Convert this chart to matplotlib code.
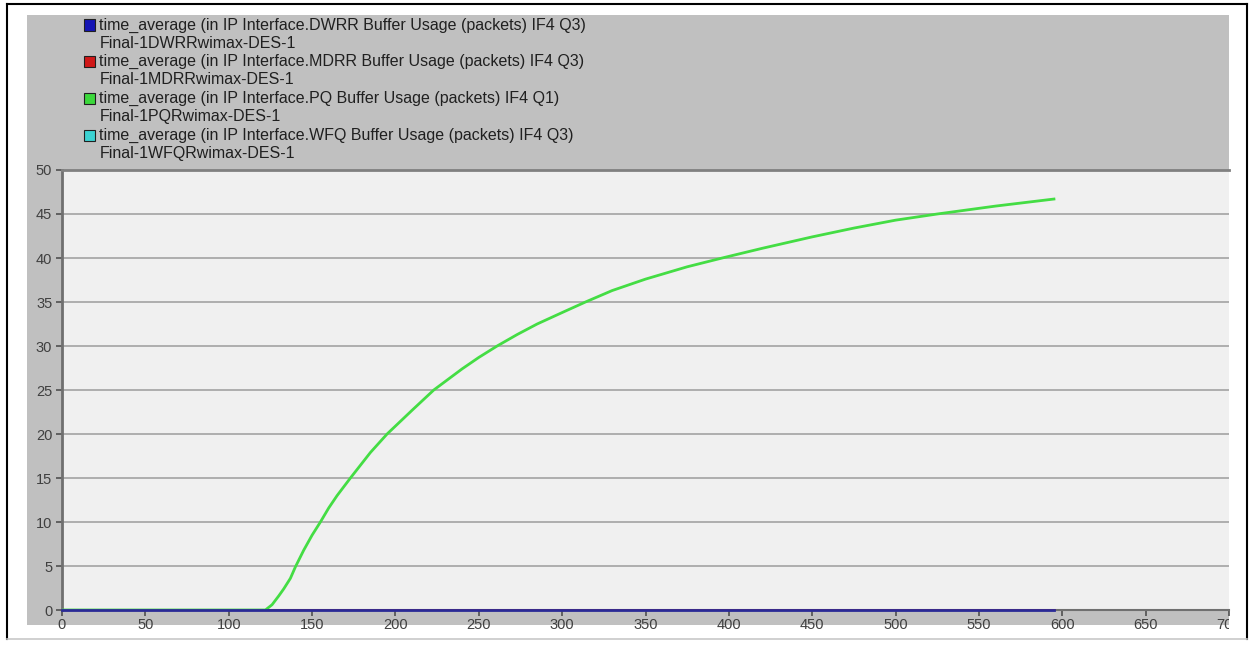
import matplotlib.pyplot as plt
from matplotlib.patches import Rectangle
from matplotlib.transforms import Bbox, TransformedBbox

# data
pq_time = [0, 50, 100, 122, 126, 130, 133, 137, 140, 145, 150, 155, 160, 165,
           173, 185, 195, 210, 223, 240, 250, 261, 273, 285, 300, 314, 330,
           350, 375, 396, 420, 450, 475, 500, 525, 560, 595]
pq_usage = [0, 0, 0, 0, 0.6, 1.6, 2.4, 3.6, 4.9, 6.8, 8.5, 10, 11.6, 13,
            15, 17.9, 20, 22.7, 25, 27.4, 28.7, 30, 31.3, 32.5, 33.8, 35, 36.3,
            37.6, 39, 40, 41.1, 42.4, 43.4, 44.3, 45, 45.9, 46.7]
flat_time = [0, 595]
dwrr_usage = [0, 0]
mdrr_usage = [0, 0]
wfq_usage = [0, 0]

legend_main = [
    "time_average (in IP Interface.DWRR Buffer Usage (packets) IF4 Q3)",
    "time_average (in IP Interface.MDRR Buffer Usage (packets) IF4 Q3)",
    "time_average (in IP Interface.PQ Buffer Usage (packets) IF4 Q1)",
    "time_average (in IP Interface.WFQ Buffer Usage (packets) IF4 Q3)",
]
legend_sub = [
    "Final-1DWRRwimax-DES-1",
    "Final-1MDRRwimax-DES-1",
    "Final-1PQRwimax-DES-1",
    "Final-1WFQRwimax-DES-1",
]
legend_colors = ["#1414b4", "#d01818", "#3cd83c", "#3cd2d2"]

plt.rcParams['font.family'] = ['Liberation Sans', 'DejaVu Sans']

W, H = 1249, 650
fig = plt.figure(figsize=(W / 100, H / 100), dpi=100)
fig.patch.set_facecolor('white')


def fx(px):
    return px / W


def fy(py):
    return 1 - py / H


# outer frame
fig.add_artist(plt.Line2D([fx(7), fx(7)], [fy(4), fy(639)], color='black', lw=1.5))
fig.add_artist(plt.Line2D([fx(7), fx(1247)], [fy(4), fy(4)], color='black', lw=1.5))
fig.add_artist(plt.Line2D([fx(1247), fx(1247)], [fy(4), fy(639)], color='black', lw=1.5))
fig.add_artist(plt.Line2D([fx(7), fx(1247)], [fy(639), fy(639)], color='#c8c8c8', lw=1.2))

# grey panel
fig.add_artist(Rectangle((fx(27), fy(625)), fx(1229) - fx(27), fy(15) - fy(625),
                         transform=fig.transFigure, facecolor='#c0c0c0',
                         edgecolor='none', zorder=0))

# legend text block
for i in range(4):
    y_main = 25 + i * 36.7
    y_sub = y_main + 18
    fig.add_artist(Rectangle((fx(84), fy(y_main + 5.5)), fx(11), 11 / H,
                             transform=fig.transFigure,
                             facecolor=legend_colors[i], edgecolor='#202020',
                             lw=0.8, zorder=3))
    fig.text(fx(99), fy(y_main), legend_main[i], fontsize=11.5, color='#202020',
             va='center', ha='left')
    fig.text(fx(100), fy(y_sub), legend_sub[i], fontsize=11.5, color='#202020',
             va='center', ha='left')

ax = fig.add_axes([fx(62), fy(610), fx(1229) - fx(62), fy(170) - fy(610)])
ax.set_facecolor('#f0f0f0')

ax.plot(flat_time, wfq_usage, color=legend_colors[3], lw=2, zorder=3)
ax.plot(flat_time, mdrr_usage, color=legend_colors[1], lw=2, zorder=3)
ax.plot(pq_time, pq_usage, color='#44dd44', lw=2, zorder=3)
ax.plot(flat_time, dwrr_usage, color='#2a2a96', lw=2, zorder=4, clip_on=False)

ax.set_xlim(0, 700)
ax.set_ylim(0, 50)
ax.set_xticks(range(0, 701, 50))
ax.set_yticks(range(0, 51, 5))
ax.grid(axis='y', color='#a8a8a8', lw=1.3)
ax.set_axisbelow(True)

ax.spines['right'].set_visible(False)
ax.spines['left'].set_color('#707070')
ax.spines['left'].set_linewidth(2)
ax.spines['bottom'].set_color('#707070')
ax.spines['bottom'].set_linewidth(1.5)
ax.spines['top'].set_color('#808080')
ax.spines['top'].set_linewidth(2)

ax.tick_params(axis='both', direction='out', length=4, width=1.2,
               color='#505050', labelsize=10.5, labelcolor='#404040')
ax.tick_params(axis='x', pad=2)
ax.tick_params(axis='y', pad=3)

# the last x label is cut by the panel edge
clip = TransformedBbox(Bbox([[0, 0], [fx(1229), 1]]), fig.transFigure)
for t in ax.xaxis.get_major_ticks():
    t.label1.set_clip_box(clip)
    t.label1.set_clip_on(True)

fig.savefig('out.png', dpi=100)
